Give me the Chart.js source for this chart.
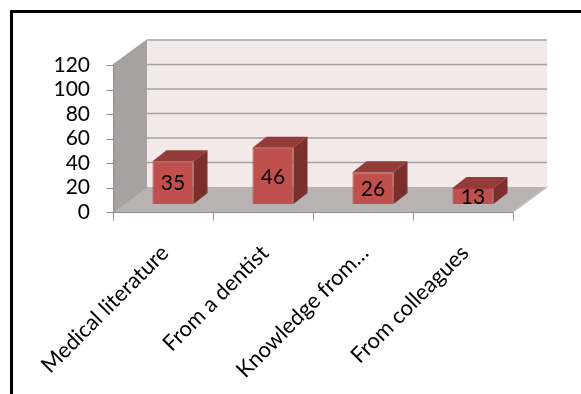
<!DOCTYPE html>
<html>
<head>
<meta charset="utf-8">
<script src="https://cdn.jsdelivr.net/npm/chart.js@4"></script>
<style>
  body { margin: 0; background: #fff; }
  canvas { display: block; }
</style>
</head>
<body>
<canvas id="chart" width="581" height="394"></canvas>
<script>
const categories = ['Medical literature', 'From a dentist', 'Knowledge from…', 'From colleagues'];
const values = [35, 46, 26, 13];
const yTicks = [0, 20, 40, 60, 80, 100, 120];

// 3D offsets relative to the plane where the bar fronts sit
const FRONT = { dx: -10, dy: 8 };
const BACK = { dx: 24, dy: -17 };
const BAR_DEPTH = { dx: 14, dy: -11 };

const depthPlugin = {
  id: 'depth3d',
  beforeDraw(chart) {
    const ctx = chart.ctx;
    ctx.save();
    ctx.fillStyle = '#fff';
    ctx.fillRect(0, 0, chart.width, chart.height);
    ctx.strokeStyle = '#000';
    ctx.lineWidth = 3;
    ctx.strokeRect(11.5, 11.5, 800, 800);
    ctx.restore();
  },
  beforeDatasetsDraw(chart) {
    const { ctx, chartArea: a, scales: { y } } = chart;
    const yMax = y.getPixelForValue(yTicks[yTicks.length - 1]);
    const y0 = y.getPixelForValue(0);
    const poly = (pts, fill) => {
      ctx.beginPath();
      ctx.moveTo(pts[0][0], pts[0][1]);
      pts.slice(1).forEach(p => ctx.lineTo(p[0], p[1]));
      ctx.closePath();
      ctx.fillStyle = fill;
      ctx.fill();
    };
    const line = (x1, y1, x2, y2) => {
      ctx.beginPath();
      ctx.moveTo(x1, y1);
      ctx.lineTo(x2, y2);
      ctx.stroke();
    };
    ctx.save();
    // left wall
    poly([[a.left + FRONT.dx, yMax + FRONT.dy], [a.left + BACK.dx, yMax + BACK.dy],
          [a.left + BACK.dx, y0 + BACK.dy], [a.left + FRONT.dx, y0 + FRONT.dy]], '#a7a1a1');
    // back wall
    poly([[a.left + BACK.dx, yMax + BACK.dy], [a.right + BACK.dx, yMax + BACK.dy],
          [a.right + BACK.dx, y0 + BACK.dy], [a.left + BACK.dx, y0 + BACK.dy]], '#f3e9e9');
    // floor
    poly([[a.left + FRONT.dx, y0 + FRONT.dy], [a.right + FRONT.dx, y0 + FRONT.dy],
          [a.right + BACK.dx, y0 + BACK.dy], [a.left + BACK.dx, y0 + BACK.dy]], '#b9b2b2');

    // gridlines
    ctx.strokeStyle = '#a2a2a2';
    ctx.lineWidth = 1.3;
    yTicks.forEach(v => {
      const py = y.getPixelForValue(v);
      line(a.left + FRONT.dx, py + FRONT.dy, a.left + BACK.dx, py + BACK.dy);
      if (v > 0) line(a.left + BACK.dx, py + BACK.dy, a.right + BACK.dx, py + BACK.dy);
    });
    ctx.strokeStyle = '#c4c4c4';
    line(a.right + FRONT.dx, y0 + FRONT.dy, a.right + BACK.dx, y0 + BACK.dy);

    // front axes with tick marks
    ctx.strokeStyle = '#8e8e8e';
    ctx.lineWidth = 1;
    const fx = Math.round(a.left + FRONT.dx) + 0.5;
    const fy = Math.round(y0 + FRONT.dy) + 0.5;
    line(fx, yMax + FRONT.dy, fx, fy);
    yTicks.forEach(v => {
      const py = Math.round(y.getPixelForValue(v) + FRONT.dy) + 0.5;
      line(fx - 7, py, fx, py);
    });
    line(fx, fy, a.right + FRONT.dx, fy);
    const step = (a.right - a.left) / categories.length;
    for (let i = 0; i <= categories.length; i++) {
      const px = Math.round(a.left + FRONT.dx + i * step) + 0.5;
      line(px, fy, px, fy + 8);
    }
    ctx.restore();
  },
  afterDatasetsDraw(chart) {
    const ctx = chart.ctx;
    const meta = chart.getDatasetMeta(0);
    ctx.save();
    meta.data.forEach((bar, i) => {
      const { x, y, base, width } = bar.getProps(['x', 'y', 'base', 'width'], true);
      const l = x - width / 2, r = x + width / 2;
      // top face
      ctx.beginPath();
      ctx.moveTo(l, y);
      ctx.lineTo(l + BAR_DEPTH.dx, y + BAR_DEPTH.dy);
      ctx.lineTo(r + BAR_DEPTH.dx, y + BAR_DEPTH.dy);
      ctx.lineTo(r, y);
      ctx.closePath();
      ctx.fillStyle = '#943c3a';
      ctx.fill();
      // side face
      ctx.beginPath();
      ctx.moveTo(r, y);
      ctx.lineTo(r + BAR_DEPTH.dx, y + BAR_DEPTH.dy);
      ctx.lineTo(r + BAR_DEPTH.dx, base + BAR_DEPTH.dy);
      ctx.lineTo(r, base);
      ctx.closePath();
      ctx.fillStyle = '#7a2f2d';
      ctx.fill();
      // value label
      ctx.fillStyle = '#000';
      ctx.font = '21px Lato';
      ctx.textAlign = 'center';
      ctx.textBaseline = 'middle';
      ctx.fillText(String(values[i]), x, (y + base) / 2 + 1);
    });
    ctx.restore();
  }
};

new Chart(document.getElementById('chart'), {
  type: 'bar',
  data: {
    labels: categories,
    datasets: [{
      data: values,
      backgroundColor: '#c0504d',
      borderColor: '#a5403d',
      borderWidth: 1,
      categoryPercentage: 1,
      barPercentage: 0.41
    }]
  },
  options: {
    responsive: false,
    animation: false,
    layout: { padding: { left: 0, right: 58, top: 57, bottom: 0 } },
    plugins: { legend: { display: false }, tooltip: { enabled: false } },
    scales: {
      x: {
        grid: { display: false },
        border: { display: false },
        afterFit: scale => { scale.height = 190; },
        ticks: {
          color: '#000',
          font: { family: 'Lato', size: 22 },
          minRotation: 45,
          maxRotation: 45,
          autoSkip: false,
          padding: 28,
          labelOffset: -8
        }
      },
      y: {
        min: 0,
        max: 120,
        grid: { display: false },
        border: { display: false },
        afterFit: scale => { scale.width = 123; },
        afterBuildTicks: scale => { scale.ticks = yTicks.map(v => ({ value: v })); },
        ticks: {
          color: '#000',
          font: { family: 'Lato', size: 21 },
          autoSkip: false,
          padding: 25,
          labelOffset: 8
        }
      }
    }
  },
  plugins: [depthPlugin]
});
</script>
</body>
</html>
